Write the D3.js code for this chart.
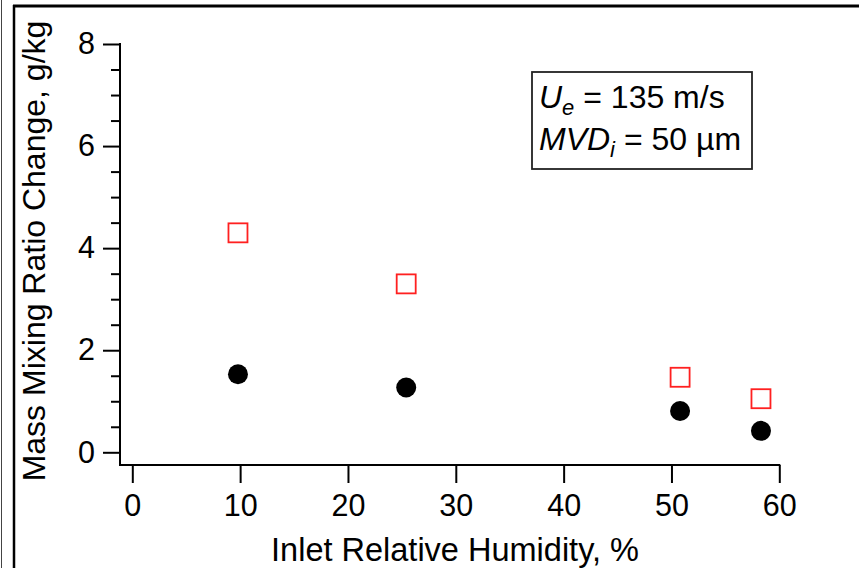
<!DOCTYPE html>
<html>
<head>
<meta charset="utf-8">
<script src="https://cdn.jsdelivr.net/npm/d3@7"></script>
<style>
  html, body { margin: 0; padding: 0; background: #fff; }
  svg { display: block; font-family: "Liberation Sans", Arial, sans-serif; }
</style>
</head>
<body>
<svg id="chart" width="859" height="568"></svg>
<script>
// ---- data ----
const humidity = [9.8, 25.4, 50.8, 58.3];
const filledCircles = [1.53, 1.27, 0.81, 0.42];
const openSquares = [4.30, 3.30, 1.47, 1.05];
const xTicks = [0, 10, 20, 30, 40, 50, 60];
const yTicks = [0, 2, 4, 6, 8];
const yMinorTicks = d3.range(0, 8.01, 0.5).filter(v => v % 2 !== 0);
const xLabel = "Inlet Relative Humidity, %";
const yLabel = "Mass Mixing Ratio Change, g/kg";

const svg = d3.select("#chart");

// frame lines
svg.append("line").attr("x1", 1.5).attr("x2", 1.5).attr("y1", 0).attr("y2", 568)
  .attr("stroke", "#444").attr("stroke-width", 1);
svg.append("line").attr("x1", 14).attr("x2", 14).attr("y1", 5).attr("y2", 568)
  .attr("stroke", "#000").attr("stroke-width", 2.5);
svg.append("line").attr("x1", 13).attr("x2", 859).attr("y1", 6).attr("y2", 6)
  .attr("stroke", "#000").attr("stroke-width", 3);

const x = d3.scaleLinear().domain([0, 60]).range([132.3, 779.3]);
const y = d3.scaleLinear().domain([0, 8]).range([452.3, 44]);
const axisX = 120;   // y-axis line position
const axisY = 465;   // x-axis line position
const tickFont = 30.5;

// y axis
const gy = svg.append("g").attr("transform", `translate(${axisX},0)`);
gy.call(d3.axisLeft(y).tickValues(yTicks).tickSize(17).tickPadding(8).tickFormat(d3.format("d")));
gy.select(".domain").remove();
gy.selectAll(".tick line").attr("stroke", "#000").attr("stroke-width", 2);
gy.selectAll(".tick text").attr("font-size", tickFont).attr("fill", "#000")
  .attr("font-family", "'Liberation Sans', Arial, sans-serif");
const gyMinor = svg.append("g").attr("transform", `translate(${axisX},0)`);
gyMinor.call(d3.axisLeft(y).tickValues(yMinorTicks).tickSize(9).tickFormat(""));
gyMinor.select(".domain").remove();
gyMinor.selectAll(".tick line").attr("stroke", "#000").attr("stroke-width", 2);
svg.append("line").attr("x1", axisX).attr("x2", axisX).attr("y1", y(8) - 1).attr("y2", axisY + 1)
  .attr("stroke", "#000").attr("stroke-width", 2);

// x axis
const gx = svg.append("g").attr("transform", `translate(0,${axisY})`);
gx.call(d3.axisBottom(x).tickValues(xTicks).tickSize(18).tickPadding(11).tickFormat(d3.format("d")));
gx.select(".domain").remove();
gx.selectAll(".tick line").attr("stroke", "#000").attr("stroke-width", 2);
gx.selectAll(".tick text").attr("font-size", tickFont).attr("fill", "#000")
  .attr("font-family", "'Liberation Sans', Arial, sans-serif");
svg.append("line").attr("x1", axisX - 1).attr("x2", x(60) + 1).attr("y1", axisY).attr("y2", axisY)
  .attr("stroke", "#000").attr("stroke-width", 2);

// axis titles
svg.append("text").attr("x", 455).attr("y", 561).attr("text-anchor", "middle")
  .attr("font-size", 32.5).attr("fill", "#000").text(xLabel);
svg.append("text").attr("transform", "translate(45,251) rotate(-90)").attr("text-anchor", "middle")
  .attr("font-size", 32).attr("fill", "#000").text(yLabel);

// data points
svg.append("g").selectAll("rect").data(humidity).join("rect")
  .attr("x", (d) => x(d) - 9.5)
  .attr("y", (d, i) => y(openSquares[i]) - 9.5)
  .attr("width", 19).attr("height", 19)
  .attr("fill", "none").attr("stroke", "#ff2020").attr("stroke-width", 1.8);
svg.append("g").selectAll("circle").data(humidity).join("circle")
  .attr("cx", (d) => x(d))
  .attr("cy", (d, i) => y(filledCircles[i]))
  .attr("r", 10).attr("fill", "#000");

// annotation box
svg.append("rect").attr("x", 532).attr("y", 72).attr("width", 220).attr("height", 97)
  .attr("fill", "#fff").attr("stroke", "#222").attr("stroke-width", 1.8);
const t1 = svg.append("text").attr("x", 539).attr("y", 108).attr("font-size", 32).attr("fill", "#000");
t1.append("tspan").attr("font-style", "italic").text("U");
t1.append("tspan").attr("font-style", "italic").attr("font-size", 22).attr("dy", 7).text("e");
t1.append("tspan").attr("dy", -7).text(" = 135 m/s");
const t2 = svg.append("text").attr("x", 539).attr("y", 150).attr("font-size", 32).attr("fill", "#000");
t2.append("tspan").attr("font-style", "italic").text("MVD");
t2.append("tspan").attr("font-style", "italic").attr("font-size", 22).attr("dy", 7).text("i");
t2.append("tspan").attr("dy", -7).text(" = 50 µm");
</script>
</body>
</html>
